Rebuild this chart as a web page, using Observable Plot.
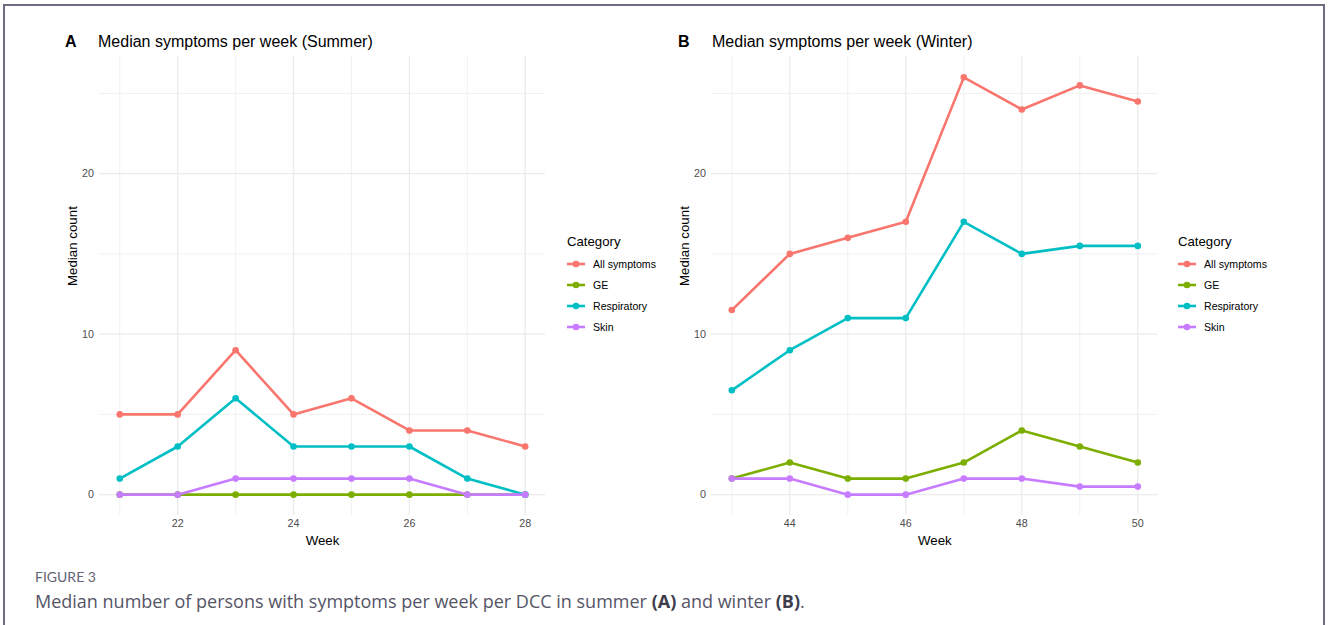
<!DOCTYPE html>
<html>
<head>
<meta charset="utf-8">
<script src="https://cdn.jsdelivr.net/npm/d3@7"></script>
<script src="https://cdn.jsdelivr.net/npm/@observablehq/plot@0.6"></script>
<style>
  html, body { margin: 0; padding: 0; background: #fff; }
  body { width: 1328px; height: 625px; position: relative; overflow: hidden; font-family: "Liberation Sans", Arial, sans-serif; }
  .frame { position: absolute; left: 3px; top: 4px; width: 1322px; height: 700px; border: 2px solid #6d6d80; border-bottom: none; box-sizing: border-box; }
  .panel { position: absolute; top: 0; }
  .ptitle { position: absolute; font-size: 16px; line-height: 16px; color: #000; white-space: nowrap; }
  .tag { position: absolute; font-size: 16px; line-height: 16px; font-weight: bold; color: #000; }
  .legend { position: absolute; font-size: 10.6px; color: #000; }
  .legend .lt { position: absolute; left: 0; font-size: 13.2px; height: 21px; line-height: 21px; white-space: nowrap; }
  .legend .li { position: absolute; left: 0; height: 21px; display: flex; align-items: center; white-space: nowrap; }
  .legend .li svg { margin-right: 8px; }
  .figlabel { position: absolute; left: 35px; top: 568px; font-family: Lato, "Open Sans", sans-serif; font-size: 14px; color: #646475; }
  .caption { position: absolute; left: 35px; top: 589px; font-family: "Open Sans", Lato, sans-serif; font-size: 18px; line-height: 24px; color: #555566; white-space: nowrap; }
  .caption b { font-weight: bold; color: #3d3d4d; }
</style>
</head>
<body>
<div class="frame"></div>
<script>
// ---- data ----
const categories = ["All symptoms", "GE", "Respiratory", "Skin"];
const weeksSummer = [21, 22, 23, 24, 25, 26, 27, 28];
const summerAll  = [5, 5, 9, 5, 6, 4, 4, 3];
const summerGE   = [0, 0, 0, 0, 0, 0, 0, 0];
const summerResp = [1, 3, 6, 3, 3, 3, 1, 0];
const summerSkin = [0, 0, 1, 1, 1, 1, 0, 0];

const weeksWinter = [43, 44, 45, 46, 47, 48, 49, 50];
const winterAll  = [11.5, 15, 16, 17, 26, 24, 25.5, 24.5];
const winterGE   = [1, 2, 1, 1, 2, 4, 3, 2];
const winterResp = [6.5, 9, 11, 11, 17, 15, 15.5, 15.5];
const winterSkin = [1, 1, 0, 0, 1, 1, 0.5, 0.5];

const yTicks = [0, 10, 20];
const yMinor = [5, 15, 25];
const xTicksSummer = [22, 24, 26, 28];
const xMinorSummer = [21, 23, 25, 27];
const xTicksWinter = [44, 46, 48, 50];
const xMinorWinter = [43, 45, 47, 49];

const palette = ["#F8766D", "#7CAE00", "#00BFC4", "#C77CFF"];

function tidy(weeks, seriesList) {
  const rows = [];
  categories.forEach((c, i) => {
    weeks.forEach((w, j) => rows.push({category: c, week: w, value: seriesList[i][j]}));
  });
  return rows;
}

function expand(lo, hi) { const d = (hi - lo) * 0.05; return [lo - d, hi + d]; }

function panel(weeks, seriesList, xTicks, xMinor, marginRight) {
  const data = tidy(weeks, seriesList);
  const grid = "#EBEBEB";
  return Plot.plot({
    width: 664,
    height: 560,
    marginLeft: 99,
    marginRight: marginRight,
    marginTop: 56,
    marginBottom: 45,
    style: {fontFamily: '"Liberation Sans", Arial, sans-serif', fontSize: "10.7px", background: "transparent", color: "#000", overflow: "visible"},
    x: {domain: expand(d3.min(weeks), d3.max(weeks))},
    y: {domain: expand(0, 26)},
    color: {domain: categories, range: palette},
    marks: [
      Plot.ruleY(yMinor, {stroke: grid, strokeWidth: 0.7}),
      Plot.ruleY(yTicks, {stroke: grid, strokeWidth: 1.3}),
      Plot.ruleX(xMinor, {stroke: grid, strokeWidth: 0.7}),
      Plot.ruleX(xTicks, {stroke: grid, strokeWidth: 1.3}),
      Plot.axisX(xTicks, {tickSize: 0, tickPadding: 4, label: null, fill: "#4D4D4D"}),
      Plot.axisY(yTicks, {tickSize: 0, tickPadding: 5.5, label: null, fill: "#4D4D4D"}),
      Plot.text(["Week"], {frameAnchor: "bottom", dy: 29, fontSize: 13.3, fill: "#000"}),
      Plot.text(["Median count"], {frameAnchor: "left", rotate: -90, dx: -27, fontSize: 13.3, fill: "#000"}),
      Plot.line(data, {x: "week", y: "value", stroke: "category", z: "category", strokeWidth: 2.6}),
      Plot.dot(data, {x: "week", y: "value", fill: "category", r: 3.3})
    ]
  });
}

function legend(left) {
  const el = document.createElement("div");
  el.className = "legend";
  el.style.left = left + "px";
  el.style.top = "0px";
  const t = document.createElement("div");
  t.className = "lt"; t.textContent = "Category"; t.style.top = "230.5px";
  el.appendChild(t);
  categories.forEach((c, i) => {
    const row = document.createElement("div");
    row.className = "li";
    row.style.top = (253.5 + 21 * i) + "px";
    row.innerHTML = `<svg width="18" height="10"><line x1="0" x2="18" y1="5" y2="5" stroke="${palette[i]}" stroke-width="2.6"/><circle cx="9" cy="5" r="3.3" fill="${palette[i]}"/></svg><span>${c}</span>`;
    el.appendChild(row);
  });
  return el;
}

function addText(cls, left, top, text) {
  const d = document.createElement("div");
  d.className = cls; d.style.left = left + "px"; d.style.top = top + "px";
  d.textContent = text;
  document.body.appendChild(d);
}

const A = panel(weeksSummer, [summerAll, summerGE, summerResp, summerSkin], xTicksSummer, xMinorSummer, 119);
const B = panel(weeksWinter, [winterAll, winterGE, winterResp, winterSkin], xTicksWinter, xMinorWinter, 118.4);
const wa = document.createElement("div"); wa.className = "panel"; wa.style.left = "0px"; wa.appendChild(A);
const wb = document.createElement("div"); wb.className = "panel"; wb.style.left = "612px"; wb.appendChild(B);
document.body.appendChild(wa);
document.body.appendChild(wb);
document.body.appendChild(legend(567));
document.body.appendChild(legend(1178));

addText("tag", 65, 34, "A");
addText("ptitle", 98, 34, "Median symptoms per week (Summer)");
addText("tag", 678, 34, "B");
addText("ptitle", 712, 34, "Median symptoms per week (Winter)");

addText("figlabel", 35, 568, "FIGURE 3");
const cap = document.createElement("div");
cap.className = "caption";
cap.innerHTML = "Median number of persons with symptoms per week per DCC in summer <b>(A)</b> and winter <b>(B)</b>.";
document.body.appendChild(cap);
</script>
</body>
</html>
